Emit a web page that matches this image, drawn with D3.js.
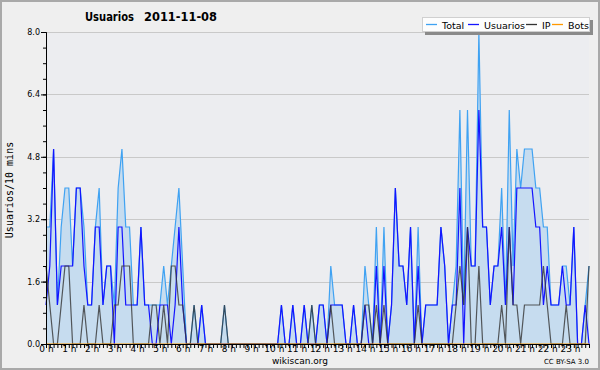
<!DOCTYPE html>
<html>
<head>
<meta charset="utf-8">
<script src="https://cdn.jsdelivr.net/npm/d3@7"></script>
<style>
  body { margin: 0; background: #efefef; }
  svg { display: block; }
  text { font-family: "DejaVu Sans", sans-serif; fill: #000; }
</style>
</head>
<body>
<div id="chart"></div>
<script>
// 10 minute buckets over the day (144 values)
var total = [3,3,5,1,3,4,4,2,4,4, 3,1,1,3,4,1,2,2,1,4, 5,3,3,1,1,3,1,1,1,1,
  1,2,1,2,3,4,2,0,0,1, 0,1,0,0,0,0,0,1,0,0, 0,0,0,0,0,0,0,0,0,0,
  0,0,1,0,0,1,0,0,1,0, 1,0,1,1,0,2,1,1,1,0, 0,1,0,0,2,1,0,3,0,3,
  0,1,4,2,2,1,3,0,3,0, 1,1,1,1,3,2,0,1,2,6, 1,6,2,2,8,3,3,1,2,2,
  4,1,6,2,5,4,5,5,5,4, 4,3,3,1,1,1,2,2,1,3, 0,0,1,2];
var usuarios = [1,2,5,1,2,2,2,2,4,4, 2,1,1,3,3,1,2,2,0,3, 3,1,1,1,1,3,1,1,0,0,
  1,1,1,0,1,3,1,0,0,0, 0,1,0,0,0,0,0,0,0,0, 0,0,0,0,0,0,0,0,0,0,
  0,0,1,0,0,1,0,0,1,0, 0,0,1,1,0,1,1,1,1,0, 0,1,0,0,1,0,0,2,0,2,
  0,1,4,2,2,1,3,0,2,0, 1,1,1,1,3,2,0,1,1,4, 0,3,2,2,6,3,3,1,2,2,
  3,1,3,1,4,4,4,4,4,3, 3,1,2,1,1,1,2,1,1,3, 0,0,1,0];
var ip = [2,1,0,0,1,2,2,0,0,0, 1,0,0,0,1,0,0,0,1,1, 2,2,2,0,0,0,0,0,1,1,
  0,1,0,2,2,1,1,0,0,1, 0,0,0,0,0,0,0,1,0,0, 0,0,0,0,0,0,0,0,0,0,
  0,0,0,0,0,0,0,0,0,0, 1,0,0,0,0,1,0,0,0,0, 0,0,0,0,1,1,0,1,0,1,
  0,0,0,0,0,0,0,0,1,0, 0,0,0,0,0,0,0,0,1,2, 1,3,0,0,2,0,0,0,0,0,
  1,0,3,1,1,0,1,1,1,1, 1,2,1,0,0,0,0,1,0,0, 0,0,0,2];
var bots = d3.range(144).map(function(){ return 0; });

var yTicks = [0, 1.6, 3.2, 4.8, 6.4, 8.0];
var hourLabels = d3.range(24).map(function(h){ return h + " h"; });
var legendNames = ["Total", "Usuarios", "IP", "Bots"];
var legendColors = ["#3fa2f2", "#1414ff", "#333333", "#ff9900"];

var width = 600, height = 370;
var margin = {top: 32, right: 11, bottom: 26, left: 46};

var svg = d3.select("#chart").append("svg")
  .attr("width", width)
  .attr("height", height);

svg.append("rect")
  .attr("x", 1).attr("y", 1)
  .attr("width", width - 2).attr("height", height - 2)
  .attr("fill", "#efefef")
  .attr("stroke", "#a9a9a9")
  .attr("stroke-width", 2);

var x = d3.scaleLinear().domain([0, 143]).range([margin.left, width - margin.right]);
var y = d3.scaleLinear().domain([0, 8]).range([height - margin.bottom, margin.top]);

// plot background
svg.append("rect")
  .attr("x", x(0)).attr("y", y(8))
  .attr("width", x(143) - x(0)).attr("height", y(0) - y(8))
  .attr("fill", "#ecedf0");

// grid
svg.selectAll(".grid")
  .data(yTicks.slice(1))
  .enter().append("line")
  .attr("class", "grid")
  .attr("x1", x(0)).attr("x2", x(143))
  .attr("y1", function(d){ return Math.round(y(d)) + 0.5; })
  .attr("y2", function(d){ return Math.round(y(d)) + 0.5; })
  .attr("stroke", "#c9c9c9")
  .attr("stroke-width", 1);

var area = d3.area()
  .x(function(d, i){ return x(i); })
  .y0(y(0))
  .y1(function(d){ return y(d); });

var line = d3.line()
  .x(function(d, i){ return x(i); })
  .y(function(d){ return y(d); });

svg.append("path")
  .datum(total)
  .attr("d", area)
  .attr("fill", "#c6dcef");

var series = [total, usuarios, ip, bots];
series.forEach(function(s, k){
  svg.append("path")
    .datum(s)
    .attr("d", line)
    .attr("fill", "none")
    .attr("stroke", legendColors[k])
    .attr("stroke-width", 1.2)
    .attr("stroke-opacity", k == 2 ? 0.8 : 1)
    .attr("stroke-linejoin", "miter");
});

// x axis
var xAxis = d3.axisBottom(x)
  .tickValues(d3.range(144))
  .tickSize(4)
  .tickSizeOuter(0)
  .tickFormat(function(i){ return i % 6 == 0 ? hourLabels[i / 6] : ""; });

var gx = svg.append("g")
  .attr("transform", "translate(0," + y(0) + ")")
  .call(xAxis);
gx.selectAll("text").attr("font-size", 9).attr("dy", "0.6em").attr("y", 3);

// y axis, minor then major ticks
var gyMinor = svg.append("g")
  .attr("transform", "translate(" + x(0) + ",0)")
  .call(d3.axisLeft(y).tickValues(d3.range(0, 8.01, 0.4)).tickSize(3).tickFormat(""));
var gy = svg.append("g")
  .attr("transform", "translate(" + x(0) + ",0)")
  .call(d3.axisLeft(y).tickValues(yTicks).tickSize(5).tickSizeOuter(0).tickFormat(d3.format(".1f")));
gy.selectAll("text").attr("font-size", 8).attr("x", -6);
svg.selectAll(".domain").attr("stroke", "#000");
svg.selectAll(".tick line").attr("stroke", "#000");

// titles
svg.append("text").attr("x", 85).attr("y", 21)
  .attr("font-weight", "bold").attr("font-size", 11.5)
  .attr("textLength", 49).attr("lengthAdjust", "spacingAndGlyphs")
  .text("Usuarios");
svg.append("text").attr("x", 144).attr("y", 21)
  .attr("font-weight", "bold").attr("font-size", 11.5)
  .attr("textLength", 73).attr("lengthAdjust", "spacingAndGlyphs")
  .text("2011-11-08");

svg.append("text")
  .attr("transform", "translate(13," + (y(4) + 2) + ") rotate(-90)")
  .attr("text-anchor", "middle")
  .attr("font-size", 10)
  .style("font-family", "'DejaVu Sans Mono', monospace")
  .text("Usuarios/10 mins");

svg.append("text").attr("x", 300).attr("y", 364)
  .attr("text-anchor", "middle").attr("font-size", 9)
  .text("wikiscan.org");
svg.append("text").attr("x", 589).attr("y", 364)
  .attr("text-anchor", "end").attr("font-size", 7)
  .text("CC BY-SA 3.0");

// legend
var lg = svg.append("g");
lg.append("rect").attr("x", 425).attr("y", 20).attr("width", 168).attr("height", 15)
  .attr("fill", "#8a8a8a");
lg.append("rect").attr("x", 422.5).attr("y", 17.5).attr("width", 167).attr("height", 14)
  .attr("fill", "#fdfdfd").attr("stroke", "#d0d0d0");
var legendX = [426, 468, 526, 552];
legendNames.forEach(function(n, k){
  lg.append("line")
    .attr("x1", legendX[k]).attr("x2", legendX[k] + 11)
    .attr("y1", 24.5).attr("y2", 24.5)
    .attr("stroke", legendColors[k]).attr("stroke-width", 1.3);
  lg.append("text")
    .attr("x", legendX[k] + 16).attr("y", 28.5)
    .attr("font-size", 9.5)
    .text(n);
});
</script>
</body>
</html>
